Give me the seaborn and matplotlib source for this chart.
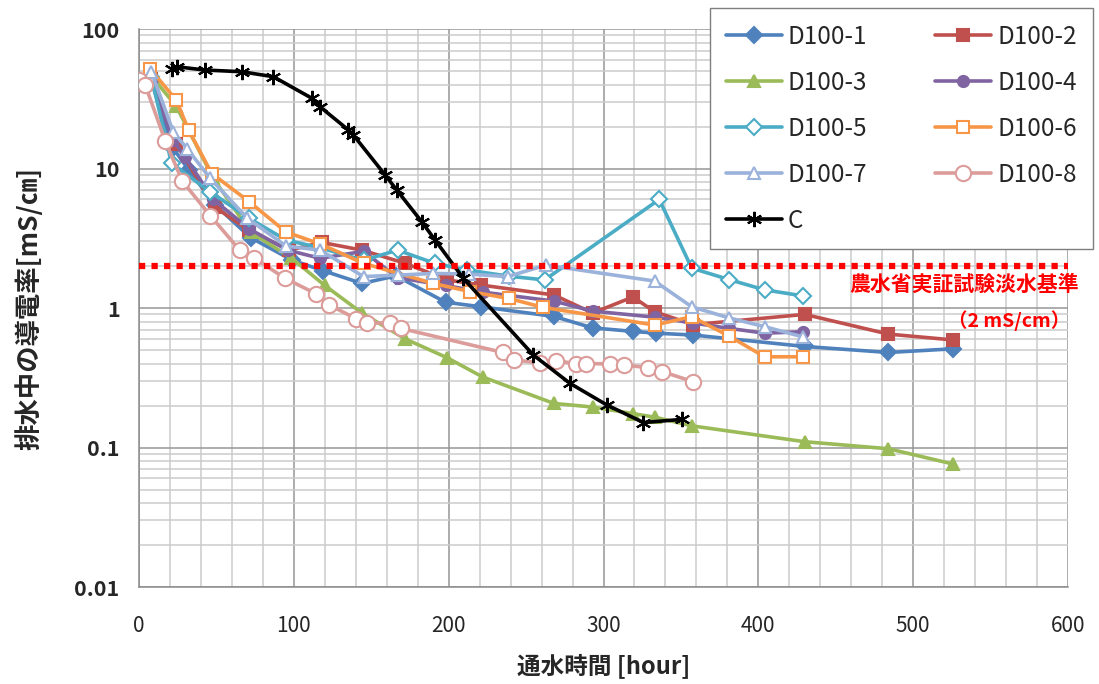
import matplotlib
matplotlib.use("Agg")
import matplotlib.pyplot as plt
import seaborn as sns
import numpy as np
from matplotlib.ticker import MultipleLocator, LogLocator, FixedLocator, NullFormatter, FixedFormatter

sns.set_theme(style="white")
plt.rcParams['font.family'] = ['Noto Sans CJK JP', 'DejaVu Sans']

# ---------------- data ----------------
series_names = ["D100-1", "D100-2", "D100-3", "D100-4", "D100-5", "D100-6", "D100-7", "D100-8", "C"]

d1_x = [8, 22, 32, 49, 72, 99, 119, 144, 166, 198, 221, 268, 293, 319, 334, 358, 430, 484, 526]
d1_y = [42, 14, 9.8, 5.5, 3.2, 2.2, 1.85, 1.5, 1.7, 1.1, 1.02, 0.87, 0.72, 0.68, 0.66, 0.64, 0.53, 0.48, 0.51]

d2_x = [8, 24, 49, 71, 97, 118, 144, 172, 199, 221, 268, 293, 319, 333, 358, 430, 484, 526]
d2_y = [44, 15, 5.3, 3.6, 2.6, 2.95, 2.6, 2.09, 1.59, 1.46, 1.24, 0.92, 1.2, 0.94, 0.76, 0.9, 0.65, 0.59]

d3_x = [8, 24, 48, 72, 98, 120, 144, 172, 199, 222, 268, 293, 319, 333, 357, 430, 484, 526]
d3_y = [46, 28, 8.5, 3.5, 2.3, 1.45, 0.92, 0.6, 0.44, 0.32, 0.207, 0.195, 0.175, 0.165, 0.143, 0.11, 0.098, 0.076]

d4_x = [8, 22, 30, 48, 71, 96, 117, 145, 167, 198, 222, 268, 293, 333, 358, 381, 404, 429]
d4_y = [42, 16, 12, 6, 3.7, 2.6, 2.27, 2.55, 1.65, 1.45, 1.3, 1.12, 0.95, 0.86, 0.78, 0.715, 0.66, 0.676]

d5_x = [8, 21, 46, 71, 95, 117, 145, 167, 191, 212, 239, 262, 336, 357, 381, 404, 429]
d5_y = [45, 10.9, 6.8, 4.4, 3.07, 2.7, 2.2, 2.6, 2.09, 1.87, 1.69, 1.59, 6.0, 1.93, 1.6, 1.35, 1.22]

d6_x = [7, 24, 32, 47, 71, 95, 117, 145, 190, 214, 239, 261, 333, 357, 381, 404, 429]
d6_y = [52, 31, 18.9, 9.2, 5.8, 3.5, 2.88, 2.09, 1.5, 1.31, 1.17, 1.01, 0.755, 0.866, 0.63, 0.447, 0.447]

d7_x = [8, 22, 31, 46, 70, 95, 117, 145, 167, 190, 213, 238, 263, 333, 357, 381, 404, 429]
d7_y = [49.5, 18.4, 13.9, 8.5, 4.4, 2.78, 2.6, 1.68, 1.72, 1.77, 1.75, 1.68, 2.03, 1.56, 1.02, 0.85, 0.735, 0.62]

d8_x = [0, 4, 17, 28, 46, 65, 74, 94, 114, 123, 140, 147, 162, 169, 235, 242, 259, 269, 282, 289, 304, 313, 329, 338, 358]
d8_y = [43, 39.7, 15.7, 8.1, 4.6, 2.6, 2.3, 1.64, 1.27, 1.05, 0.84, 0.78, 0.78, 0.715, 0.48, 0.424, 0.405, 0.419, 0.40, 0.40, 0.397, 0.39, 0.374, 0.35, 0.296]

c_x = [21, 24.5, 42.6, 66.3, 86.8, 111.6, 116.9, 135.2, 138.4, 158.9, 166.5, 182.6, 191.2, 209.5, 254.7, 278.4, 302.1, 325.8, 350.6]
c_y = [51.5, 53.6, 50.8, 49.4, 45.5, 31.9, 27.7, 18.9, 17.4, 9.0, 7.0, 4.15, 3.07, 1.63, 0.46, 0.288, 0.202, 0.151, 0.159]

standard_value = 2.0
standard_label = "農水省実証試験淡水基準"
standard_unit = "（2 mS/cm）"

x_ticks = [0, 100, 200, 300, 400, 500, 600]
y_ticks = [0.01, 0.1, 1, 10, 100]
y_tick_labels = ["0.01", "0.1", "1", "10", "100"]
x_label = "通水時間 [hour]"
y_label = "排水中の導電率[mS/㎝]"

# ---------------- styles ----------------
styles = {
    "D100-1": dict(color="#4F81BD", marker="D", mfc="#4F81BD", ms=8),
    "D100-2": dict(color="#C0504D", marker="s", mfc="#C0504D", ms=8),
    "D100-3": dict(color="#9BBB59", marker="^", mfc="#9BBB59", ms=9),
    "D100-4": dict(color="#8064A2", marker="o", mfc="#8064A2", ms=8),
    "D100-5": dict(color="#4BACC6", marker="D", mfc="white", ms=8),
    "D100-6": dict(color="#F79646", marker="s", mfc="white", ms=9),
    "D100-7": dict(color="#9BB2DB", marker="^", mfc="white", ms=9),
    "D100-8": dict(color="#DB9C9A", marker="o", mfc="white", ms=11),
    "C": dict(color="#000000", marker=(6, 2, 0), mfc="black", ms=11),
}
data = {
    "D100-1": (d1_x, d1_y), "D100-2": (d2_x, d2_y), "D100-3": (d3_x, d3_y),
    "D100-4": (d4_x, d4_y), "D100-5": (d5_x, d5_y), "D100-6": (d6_x, d6_y),
    "D100-7": (d7_x, d7_y), "D100-8": (d8_x, d8_y), "C": (c_x, c_y),
}

fig = plt.figure(figsize=(10.99, 6.84), dpi=100)
ax = fig.add_axes([0.1265, 0.1418, 0.8453, 0.8158])
ax.set_yscale("log")
ax.set_xlim(0, 600)
ax.set_ylim(0.01, 100)

# grid
ax.xaxis.set_major_locator(FixedLocator(x_ticks))
ax.xaxis.set_minor_locator(MultipleLocator(20))
ax.yaxis.set_major_locator(FixedLocator(y_ticks))
ax.yaxis.set_minor_locator(LogLocator(base=10, subs=np.arange(2, 10), numticks=20))
ax.yaxis.set_minor_formatter(NullFormatter())
ax.grid(True, which="major", color="#969696", linewidth=1.1, zorder=0)
ax.grid(True, which="minor", color="#CBCBCB", linewidth=1.1, zorder=0)
ax.set_axisbelow(True)

for name in series_names:
    xs, ys = data[name]
    st = styles[name]
    sns.lineplot(x=xs, y=ys, ax=ax, color=st["color"], marker=st["marker"],
                 markerfacecolor=st["mfc"], markeredgecolor=st["color"],
                 markeredgewidth=1.5, markersize=st["ms"], linewidth=2.6,
                 estimator=None, sort=False, label=name, zorder=3)

ax.axhline(standard_value, color="#FF0000", linestyle=(0, (1, 1)), linewidth=4.5, zorder=4)
ax.text(1.0115, 2.0 * 0.74, standard_label, transform=ax.get_yaxis_transform(),
        color="#FF0000", fontsize=15, fontweight="bold", ha="right", va="center", zorder=5)
ax.text(0.937, 2.0 * 0.405, standard_unit, transform=ax.get_yaxis_transform(),
        color="#FF0000", fontsize=14, fontweight="bold", ha="center", va="center", zorder=5)

ax.set_xticks(x_ticks)
ax.set_xticklabels([str(v) for v in x_ticks], fontsize=15)
ax.yaxis.set_major_formatter(FixedFormatter(y_tick_labels))
for lab in ax.get_yticklabels():
    lab.set_fontsize(15.5)
    lab.set_fontweight("bold")
ax.tick_params(axis="both", which="major", length=6, width=1, color="#8C8C8C", direction="out", pad=8)
ax.tick_params(axis="x", which="minor", length=4, width=1, color="#8C8C8C", direction="out")
ax.tick_params(axis="y", which="minor", length=4, width=1, color="#8C8C8C", direction="in")
ax.tick_params(axis="x", which="major", pad=14)

ax.set_xlabel(x_label, fontsize=17, fontweight="bold", labelpad=12)
ax.set_ylabel(y_label, fontsize=19, fontweight="bold", labelpad=22)

for s in ["left", "bottom"]:
    ax.spines[s].set_color("#8C8C8C")
    ax.spines[s].set_linewidth(1.1)
for s in ["top", "right"]:
    ax.spines[s].set_visible(False)

ax.get_legend().remove()
h, l = ax.get_legend_handles_labels()
hmap = dict(zip(l, h))
order = ["D100-1", "D100-3", "D100-5", "D100-7", "C", "D100-2", "D100-4", "D100-6", "D100-8"]
leg = fig.legend([hmap[k] for k in order], order, ncol=2, loc="upper left",
                 bbox_to_anchor=(710 / 1099, 1 - 8 / 684), fontsize=17.5,
                 frameon=True, fancybox=False, edgecolor="#7F7F7F", framealpha=1,
                 handlelength=2.3, labelspacing=0.82, columnspacing=2.8,
                 borderpad=0.65, handletextpad=0.25, borderaxespad=0)
leg.get_frame().set_linewidth(1.0)

fig.savefig("out.png", dpi=100)
